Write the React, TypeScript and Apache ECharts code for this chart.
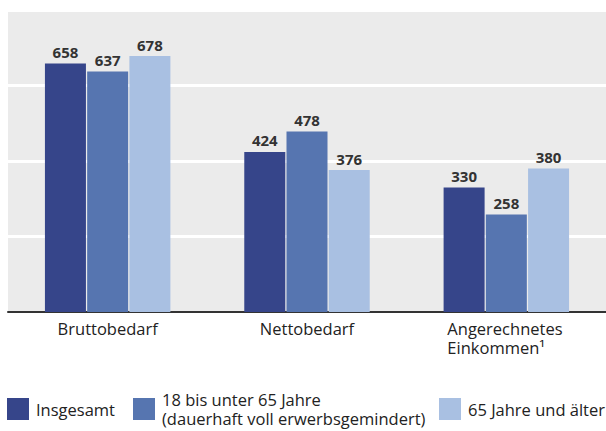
import React, { useEffect, useRef } from "react";
import * as echarts from "echarts";

const categories = ["Bruttobedarf", "Nettobedarf", "Angerechnetes\nEinkommen¹"];
const seriesNames = [
  "Insgesamt",
  "18 bis unter 65 Jahre\n(dauerhaft voll erwerbsgemindert)",
  "65 Jahre und älter",
];
const insgesamt = [658, 424, 330];
const erwerbsgemindert = [637, 478, 258];
const ab65 = [678, 376, 380];
const colors = ["#36458a", "#5675b0", "#a9c0e2"];

const FONT = "'Open Sans', 'Noto Sans', sans-serif";

export default function App() {
  const ref = useRef<HTMLDivElement>(null);
  useEffect(() => {
    const chart = echarts.init(ref.current!, null, { renderer: "svg" });
    const values = [insgesamt, erwerbsgemindert, ab65];
    const legendLefts = [7, 133, 439];
    const legendTops = [398, 390, 398];
    chart.setOption({
      animation: false,
      textStyle: { fontFamily: FONT },
      grid: {
        left: 8,
        top: 10,
        width: 604,
        height: 302,
        show: true,
        backgroundColor: "#ebebeb",
        borderWidth: 0,
        containLabel: false,
      },
      legend: seriesNames.map((n, i) => ({
        data: [n],
        left: legendLefts[i],
        top: legendTops[i],
        itemWidth: 22,
        itemHeight: 22,
        icon: "rect",
        padding: 0,
        textStyle: {
          fontFamily: FONT,
          fontSize: 16.5,
          color: "#222",
          lineHeight: 19,
          padding: [0, 0, 0, 2],
        },
      })),
      xAxis: {
        type: "category",
        data: categories,
        axisTick: { show: false },
        axisLine: { lineStyle: { color: "#333", width: 2 } },
        axisLabel: {
          color: "#222",
          fontSize: 16.5,
          fontFamily: FONT,
          margin: 7,
          lineHeight: 19,
          formatter: (v: string) =>
            v.indexOf("\n") >= 0
              ? v
                  .split("\n")
                  .map((s) => `{l|${s}}`)
                  .join("\n")
              : v,
          rich: {
            l: {
              width: 118,
              align: "left",
              fontSize: 16.5,
              color: "#222",
              fontFamily: FONT,
              lineHeight: 19,
            },
          },
        },
      },
      yAxis: {
        type: "value",
        min: 0,
        max: 800,
        interval: 200,
        axisLabel: { show: false },
        axisLine: { show: false },
        axisTick: { show: false },
        splitLine: { lineStyle: { color: "#ffffff", width: 3 } },
      },
      series: seriesNames.map((n, i) => ({
        name: n,
        type: "bar",
        data: values[i],
        barWidth: 41,
        barGap: "3%",
        itemStyle: { color: colors[i] },
        label: {
          show: true,
          position: "top",
          distance: 4,
          color: "#333",
          fontWeight: "bold",
          fontSize: 15,
          fontFamily: FONT,
        },
      })),
    });
    return () => chart.dispose();
  }, []);
  return (
    <div
      ref={ref}
      style={{ position: "absolute", left: 0, top: 0, width: 606, height: 431 }}
    />
  );
}
